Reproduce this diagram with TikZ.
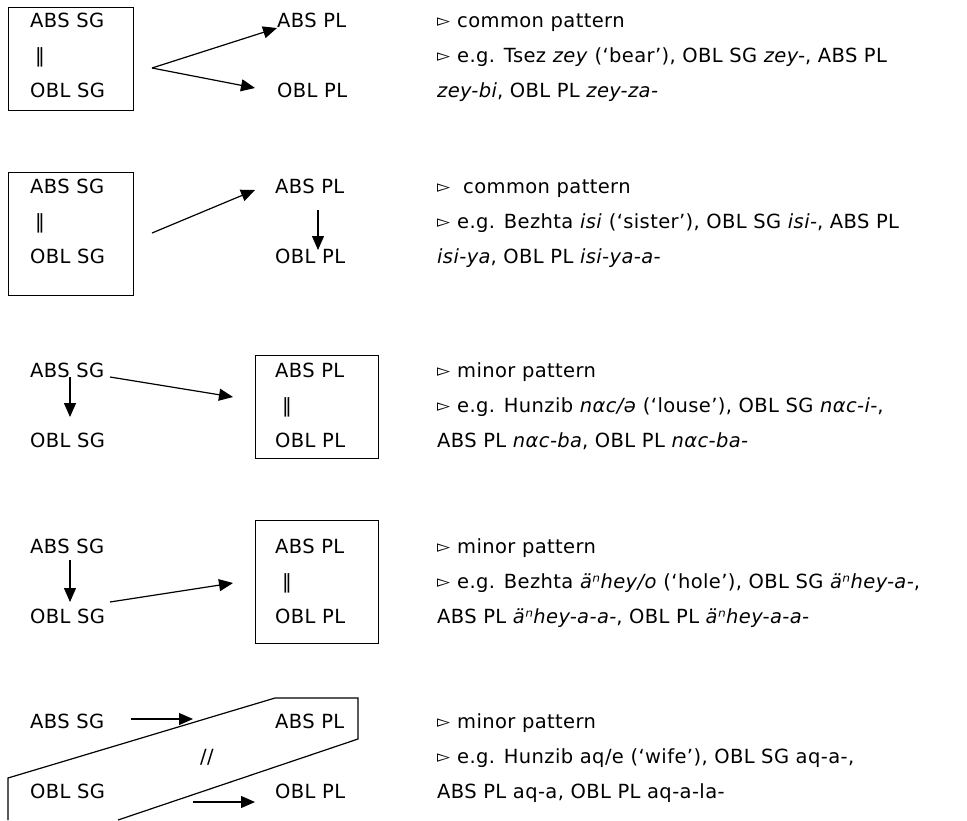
\documentclass[tikz,border=0pt]{standalone}
\usepackage{fontspec}
\setmainfont{DejaVu Sans}[LetterSpace=2]
\usetikzlibrary{arrows.meta}
\newcommand{\tri}{\makebox[20pt][l]{\raisebox{0.5pt}{\fontsize{17}{17}\selectfont ▻}}}

\begin{document}
\begin{tikzpicture}[x=1pt,y=-1pt,
    lab/.style={inner sep=0pt, anchor=base west, font=\fontsize{19.5}{22}\selectfont},
    caja/.style={draw, line width=1.2pt, inner sep=0pt, anchor=north west},
    flecha/.style={line width=1.2pt, -{Triangle[length=14pt,width=12pt]}}]
  \useasboundingbox (0,0) rectangle (967,820);

  % Fila 1
  \node[caja, minimum width=125pt, minimum height=103pt] (b1) at (8,7) {};
  \node[lab] (as1) at (30,27) {ABS SG};
  \node[lab] (eq1) at (35,62) {‖};
  \node[lab] (os1) at (30,97) {OBL SG};
  \node[lab] (ap1) at (277,27) {ABS PL};
  \node[lab] (op1) at (277,97) {OBL PL};
  \coordinate (f1) at (152,68);
  \draw[flecha] (f1) -- ([yshift=-1pt]ap1.base west);
  \draw[flecha] (f1) -- ([xshift=-22pt,yshift=9pt]op1.base west);
  \node[lab] (n1a) at (437,27) {\tri common pattern};
  \node[lab] (n1b) at (437,62) {\tri e.g. Tsez \textit{zey} (‘bear’), OBL SG \textit{zey-}, ABS PL};
  \node[lab] (n1c) at (437,97) {\textit{zey-bi}, OBL PL \textit{zey-za-}};

  % Fila 2
  \node[caja, minimum width=125pt, minimum height=123pt] (b2) at (8,172) {};
  \node[lab] (as2) at (30,193) {ABS SG};
  \node[lab] (eq2) at (35,228) {‖};
  \node[lab] (os2) at (30,263) {OBL SG};
  \node[lab] (ap2) at (275,193) {ABS PL};
  \node[lab] (op2) at (275,263) {OBL PL};
  \coordinate (f2) at (152,233);
  \draw[flecha] (f2) -- ([xshift=-20pt,yshift=3pt]ap2.base west);
  \draw[flecha] ([xshift=43pt,yshift=-17pt]ap2.base west) -- ([xshift=43pt,yshift=13pt]op2.base west);
  \node[lab] (n2a) at (437,193) {\tri\hspace{6pt}common pattern};
  \node[lab] (n2b) at (437,228) {\tri e.g. Bezhta \textit{isi} (‘sister’), OBL SG \textit{isi-}, ABS PL};
  \node[lab] (n2c) at (437,263) {\textit{isi-ya}, OBL PL \textit{isi-ya-a-}};

  % Fila 3
  \node[caja, minimum width=123pt, minimum height=103pt] (b3) at (255,355) {};
  \node[lab] (as3) at (30,377) {ABS SG};
  \node[lab] (os3) at (30,447) {OBL SG};
  \node[lab] (ap3) at (275,377) {ABS PL};
  \node[lab] (eq3) at (282,412) {‖};
  \node[lab] (op3) at (275,447) {OBL PL};
  \draw[flecha] ([xshift=40pt]as3.base west) -- ([xshift=40pt,yshift=30pt]os3.base west);
  \draw[flecha] ([xshift=80pt]as3.base west) -- ([xshift=-22pt,yshift=-42pt]b3.north west);
  \node[lab] (n3a) at (437,377) {\tri minor pattern};
  \node[lab] (n3b) at (437,412) {\tri e.g. Hunzib \textit{nαc/ə} (‘louse’), OBL SG \textit{nαc-i-},};
  \node[lab] (n3c) at (437,447) {ABS PL \textit{nαc-ba}, OBL PL \textit{nαc-ba-}};

  % Fila 4
  \node[caja, minimum width=123pt, minimum height=123pt] (b4) at (255,520) {};
  \node[lab] (as4) at (30,553) {ABS SG};
  \node[lab] (os4) at (30,623) {OBL SG};
  \node[lab] (ap4) at (275,553) {ABS PL};
  \node[lab] (eq4) at (282,588) {‖};
  \node[lab] (op4) at (275,623) {OBL PL};
  \draw[flecha] ([xshift=40pt,yshift=-7pt]as4.base west) -- ([xshift=40pt,yshift=21pt]os4.base west);
  \draw[flecha] ([xshift=80pt,yshift=21pt]os4.base west) -- ([xshift=-22pt,yshift=-63pt]b4.north west);
  \node[lab] (n4a) at (437,553) {\tri minor pattern};
  \node[lab] (n4b) at (437,588) {\tri e.g. Bezhta \textit{äⁿhey/o} (‘hole’), OBL SG \textit{äⁿhey-a-},};
  \node[lab] (n4c) at (437,623) {ABS PL \textit{äⁿhey-a-a-}, OBL PL \textit{äⁿhey-a-a-}};

  % Fila 5
  \draw[line width=1.2pt] (8,820) -- (8,778) -- (275,698) -- (358,698) -- (358,739) -- (118,820);
  \node[lab] (as5) at (30,728) {ABS SG};
  \node[lab] (os5) at (30,798) {OBL SG};
  \node[lab] (ap5) at (275,728) {ABS PL};
  \node[lab] (op5) at (275,798) {OBL PL};
  \node[lab, anchor=center] (sl5) at (207,757) {//};
  \draw[flecha] ([xshift=101pt,yshift=9pt]as5.base west) -- ([xshift=-82pt,yshift=9pt]ap5.base west);
  \draw[flecha] ([xshift=163pt,yshift=-4pt]os5.base west) -- ([xshift=-20pt,yshift=-4pt]op5.base west);
  \node[lab] (n5a) at (437,728) {\tri minor pattern};
  \node[lab] (n5b) at (437,763) {\tri e.g. Hunzib aq/e (‘wife’), OBL SG aq-a-,};
  \node[lab] (n5c) at (437,798) {ABS PL aq-a, OBL PL aq-a-la-};
\end{tikzpicture}
\end{document}
